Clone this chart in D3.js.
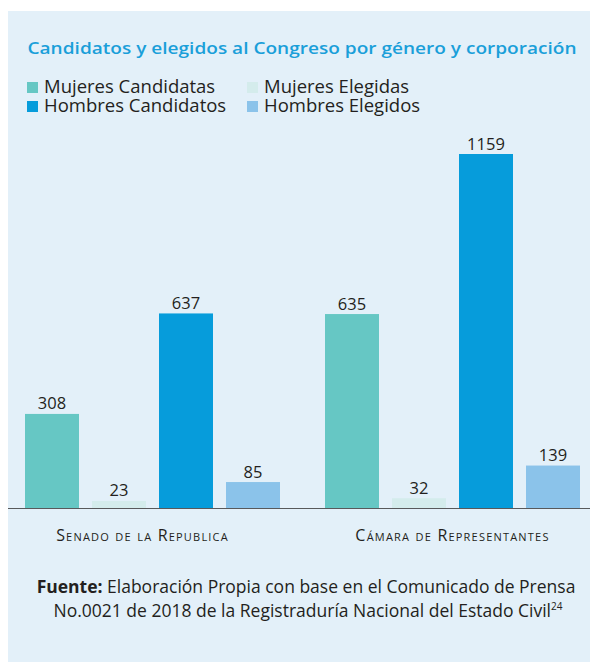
<!DOCTYPE html>
<meta charset="utf-8">
<style>
  body { margin: 0; background: #fff; }
  text { font-family: "Open Sans", sans-serif; }
</style>
<div id="chart"></div>
<script src="https://d3js.org/d3.v7.min.js"></script>
<script>

var categories = ["Senado de la Republica", "Cámara de Representantes"];
var series = ["Mujeres Candidatas", "Mujeres Elegidas", "Hombres Candidatos", "Hombres Elegidos"];
var mujeresCandidatas = [308, 635];
var mujeresElegidas = [23, 32];
var hombresCandidatos = [637, 1159];
var hombresElegidos = [85, 139];
var colors = ["#66c7c4", "#d4ecec", "#069cdb", "#8bc3ea"];

var data = categories.map(function(c, i) {
  return { cat: c, values: [mujeresCandidatas[i], mujeresElegidas[i], hombresCandidatos[i], hombresElegidos[i]] };
});

var width = 590, height = 662;

var svg = d3.select("#chart").append("svg")
    .attr("width", width)
    .attr("height", height);

// panel
svg.append("rect")
    .attr("x", 8).attr("y", 11)
    .attr("width", width - 8).attr("height", height - 11)
    .attr("fill", "#e3f0f9");

svg.append("text")
    .attr("x", 302).attr("y", 54)
    .attr("text-anchor", "middle")
    .attr("fill", "#1a9fd9")
    .attr("font-size", 17)
    .attr("font-weight", 600)
    .attr("textLength", 549)
    .attr("lengthAdjust", "spacingAndGlyphs")
    .text("Candidatos y elegidos al Congreso por género y corporación");

// legend, two columns
var order = [0, 2, 1, 3];
var legend = svg.append("g").selectAll("g")
    .data(order)
    .join("g")
      .attr("transform", function(d, i) { return "translate(" + (27 + Math.floor(i / 2) * 220) + "," + (82 + (i % 2) * 19) + ")"; });

legend.append("rect")
    .attr("width", 11).attr("height", 11)
    .attr("fill", function(d) { return colors[d]; });

legend.append("text")
    .attr("x", 17).attr("y", 10.5)
    .attr("font-size", 18.5)
    .attr("fill", "#231f20")
    .text(function(d) { return series[d]; });

var x0 = d3.scaleBand()
    .domain(categories)
    .range([25, 580])
    .paddingInner(0.15);

var x1 = d3.scaleBand()
    .domain(series)
    .range([0, x0.bandwidth()])
    .paddingInner(0.194);

var y = d3.scaleLinear()
    .domain([0, 1159])
    .range([508, 154]);

var group = svg.append("g").selectAll("g")
    .data(data)
    .join("g")
      .attr("transform", function(d) { return "translate(" + x0(d.cat) + ",0)"; });

group.selectAll("rect")
    .data(function(d) { return d.values; })
    .join("rect")
      .attr("x", function(d, i) { return x1(series[i]); })
      .attr("y", function(d) { return y(d); })
      .attr("width", x1.bandwidth())
      .attr("height", function(d) { return y(0) - y(d); })
      .attr("fill", function(d, i) { return colors[i]; });

group.selectAll("text")
    .data(function(d) { return d.values; })
    .join("text")
      .attr("x", function(d, i) { return x1(series[i]) + x1.bandwidth() / 2; })
      .attr("y", function(d) { return y(d) - 4.5; })
      .attr("text-anchor", "middle")
      .attr("font-size", 16.5)
      .attr("fill", "#231f20")
      .text(function(d) { return d; });

// axis line
svg.append("line")
    .attr("x1", 8).attr("x2", width)
    .attr("y1", y(0) + 0.5).attr("y2", y(0) + 0.5)
    .attr("stroke", "#58595b")
    .attr("stroke-width", 1.2);

svg.append("g").selectAll("text")
    .data(categories)
    .join("text")
      .attr("x", function(d) { return x0(d) + x0.bandwidth() / 2 - (d === categories[0] ? 10 : 0); })
      .attr("y", 541)
      .attr("text-anchor", "middle")
      .attr("font-size", 16)
      .attr("font-variant", "small-caps")
      .attr("letter-spacing", 1.2)
      .attr("fill", "#231f20")
      .text(function(d) { return d; });

// source
var src = svg.append("text")
    .attr("text-anchor", "middle")
    .attr("font-size", 17.5)
    .attr("fill", "#231f20");

src.append("tspan")
    .attr("x", 306).attr("y", 593)
    .attr("font-weight", 700)
    .text("Fuente:");
src.append("tspan")
    .text(" Elaboración Propia con base en el Comunicado de Prensa");
src.append("tspan")
    .attr("x", 308).attr("y", 617)
    .text("No.0021 de 2018 de la Registraduría Nacional del Estado Civil");
src.append("tspan")
    .attr("font-size", 10)
    .attr("dy", -7)
    .text("24");

</script>
